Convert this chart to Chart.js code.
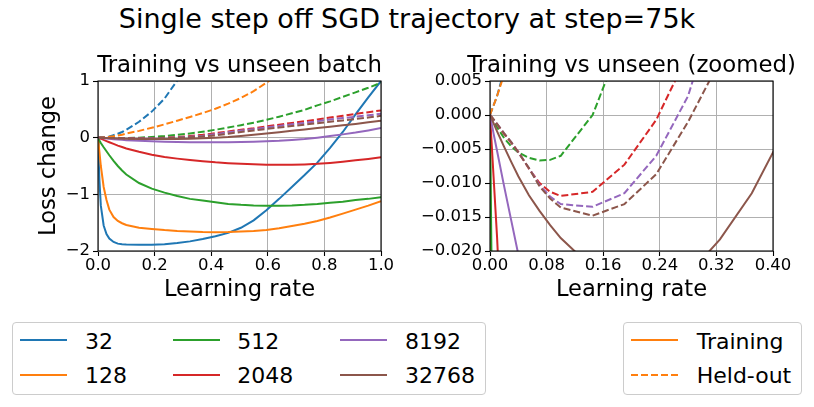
<!DOCTYPE html>
<html>
<head>
<meta charset="utf-8">
<script src="https://cdn.jsdelivr.net/npm/chart.js@4.4.1/dist/chart.umd.min.js"></script>
<style>
  body { margin: 0; background: #fff; font-family: "DejaVu Sans", sans-serif; }
  #page { position: relative; width: 814px; height: 407px; overflow: hidden; }
  #suptitle { position: absolute; left: 0; top: 5.4px; width: 814px; text-align: center;
              font-size: 27px; line-height: 27px; white-space: nowrap; }
  .panel { position: absolute; top: 0; width: 407px; height: 310px; }
  .legend { position: absolute; border: 1px solid #cccccc; border-radius: 4px; box-sizing: border-box; }
  .item { position: absolute; font-size: 22px; line-height: 22px; white-space: nowrap; color: #000; }
  svg.key { position: absolute; overflow: visible; }
</style>
</head>
<body>
<div id="page">
  <div id="suptitle">Single step off SGD trajectory at step=75k</div>
  <div class="panel" style="left:0"><canvas id="leftChart"></canvas></div>
  <div class="panel" style="left:407px"><canvas id="rightChart"></canvas></div>
</div>
<script>
// learning rates at which the single step was evaluated
var lr = [0, 0.0025, 0.005, 0.01, 0.02, 0.03, 0.04, 0.055, 0.07, 0.085, 0.1, 0.145, 0.19, 0.235, 0.28,
          0.325, 0.37, 0.415, 0.46, 0.505, 0.55, 0.595, 0.64, 0.685, 0.73, 0.775, 0.82, 0.865, 0.91, 0.955, 1.0];

var batchSizes = ['32', '128', '512', '2048', '8192', '32768'];
var colors = ['#1f77b4', '#ff7f0e', '#2ca02c', '#d62728', '#9467bd', '#8c564b'];

// loss change on the training batch (solid)
var train32    = [0, -0.4, -0.75, -1.2, -1.55, -1.7, -1.78, -1.84, -1.87, -1.88, -1.885, -1.89, -1.89, -1.88, -1.86,
                  -1.83, -1.79, -1.74, -1.68, -1.59, -1.46, -1.28, -1.08, -0.87, -0.66, -0.44, -0.18, 0.1, 0.41, 0.71, 1.0];
var train128   = [0, -0.13, -0.25, -0.5, -0.87, -1.1, -1.27, -1.4, -1.47, -1.51, -1.54, -1.59, -1.61, -1.63, -1.645,
                  -1.655, -1.665, -1.67, -1.665, -1.655, -1.645, -1.63, -1.6, -1.56, -1.52, -1.47, -1.41, -1.34, -1.27, -1.2, -1.12];
var train512   = [0, -0.025, -0.05, -0.095, -0.17, -0.24, -0.31, -0.41, -0.5, -0.58, -0.65, -0.8, -0.9, -0.97, -1.03,
                  -1.08, -1.11, -1.14, -1.17, -1.185, -1.195, -1.2, -1.2, -1.195, -1.185, -1.17, -1.15, -1.13, -1.1, -1.08, -1.05];
var train2048  = [0, -0.0045, -0.009, -0.018, -0.04, -0.06, -0.08, -0.11, -0.14, -0.165, -0.19, -0.25, -0.3, -0.34, -0.37,
                  -0.395, -0.415, -0.435, -0.45, -0.462, -0.47, -0.476, -0.478, -0.478, -0.472, -0.462, -0.445, -0.425, -0.4, -0.375, -0.347];
var train8192  = [0, -0.0013, -0.0027, -0.0053, -0.0105, -0.0155, -0.0205, -0.027, -0.033, -0.039, -0.044, -0.056, -0.065, -0.072, -0.077,
                  -0.08, -0.082, -0.082, -0.08, -0.077, -0.072, -0.065, -0.056, -0.042, -0.025, 0.0, 0.028, 0.058, 0.09, 0.128, 0.17];
var train32768 = [0, -0.0006, -0.0012, -0.0024, -0.0047, -0.0069, -0.009, -0.0118, -0.0141, -0.0162, -0.0181, -0.0225, -0.025, -0.0255, -0.0235,
                  -0.0183, -0.0115, -0.0025, 0.011, 0.03, 0.05, 0.072, 0.096, 0.12, 0.145, 0.17, 0.194, 0.218, 0.243, 0.27, 0.297];

// loss change on an unseen batch (dashed)
var held32    = [0, 0.0007, 0.0014, 0.0028, 0.0065, 0.012, 0.02, 0.045, 0.07, 0.1, 0.14, 0.28, 0.46, 0.69, 1.01,
                 1.4, null, null, null, null, null, null, null, null, null, null, null, null, null, null, null];
var held128   = [0, 0.0007, 0.0014, 0.0028, 0.006, 0.01, 0.015, 0.025, 0.037, 0.05, 0.072, 0.12, 0.175, 0.235, 0.3,
                 0.365, 0.435, 0.51, 0.6, 0.7, 0.82, 0.97, 1.12, null, null, null, null, null, null, null, null];
var held512   = [0, -0.0004, -0.0009, -0.0018, -0.0034, -0.0046, -0.0055, -0.0063, -0.0067, -0.0066, -0.006, 0.0, 0.012, 0.028, 0.05,
                 0.075, 0.105, 0.14, 0.18, 0.22, 0.265, 0.315, 0.37, 0.43, 0.49, 0.57, 0.64, 0.72, 0.8, 0.88, 0.97];
var held2048  = [0, -0.0003, -0.0007, -0.0014, -0.0028, -0.0041, -0.0054, -0.0079, -0.01, -0.0113, -0.0119, -0.0113, -0.0073, -0.0007, 0.009,
                 0.028, 0.05, 0.08, 0.11, 0.14, 0.165, 0.2, 0.23, 0.26, 0.29, 0.32, 0.355, 0.385, 0.42, 0.45, 0.48];
var held8192  = [0, -0.0003, -0.0007, -0.0013, -0.0027, -0.004, -0.0055, -0.0078, -0.0103, -0.012, -0.0131, -0.0135, -0.0115, -0.006, 0.0028,
                 0.018, 0.036, 0.06, 0.095, 0.125, 0.15, 0.18, 0.205, 0.235, 0.26, 0.29, 0.32, 0.345, 0.37, 0.395, 0.42];
var held32768 = [0, -0.0003, -0.0006, -0.0013, -0.0027, -0.004, -0.0055, -0.0078, -0.0105, -0.0123, -0.0136, -0.0148, -0.0131, -0.0087, -0.001,
                 0.008, 0.022, 0.04, 0.07, 0.1, 0.125, 0.155, 0.18, 0.205, 0.23, 0.255, 0.28, 0.305, 0.33, 0.355, 0.385];

var trainSeries = [train32, train128, train512, train2048, train8192, train32768];
var heldSeries = [held32, held128, held512, held2048, held8192, held32768];

function points(values) {
    return lr.map(function (x, i) { return { x: x, y: values[i] }; });
}

function buildDatasets() {
    var sets = [];
    for (var i = 0; i < batchSizes.length; i++) {
        sets.push({ label: batchSizes[i] + ' training', data: points(trainSeries[i]),
                    borderColor: colors[i], borderWidth: 2, pointRadius: 0, tension: 0 });
        sets.push({ label: batchSizes[i] + ' held-out', data: points(heldSeries[i]),
                    borderColor: colors[i], borderWidth: 2, borderDash: [7, 3], pointRadius: 0, tension: 0 });
    }
    // matplotlib draws later lines on top
    sets.forEach(function (s, k) { s.order = -k; });
    return sets;
}

var minus = function (s) { return String(s).replace('-', '\u2212'); };

// black frame round the axes (spines) and the subplot title centred over the plot
var frame = {
    id: 'frame',
    afterDatasetsDraw: function (chart) {
        var a = chart.chartArea, ctx = chart.ctx;
        ctx.save();
        ctx.strokeStyle = '#000';
        ctx.lineWidth = 1.1;
        ctx.strokeRect(a.left, a.top, a.right - a.left, a.bottom - a.top);
        ctx.restore();
    },
    afterDraw: function (chart, args, opts) {
        var a = chart.chartArea, ctx = chart.ctx;
        ctx.save();
        ctx.fillStyle = '#000';
        ctx.font = '22.8px "DejaVu Sans"';
        ctx.textAlign = 'center';
        ctx.textBaseline = 'middle';
        ctx.fillText(opts.text, (a.left + a.right) / 2, 66.1);
        ctx.restore();
    }
};

function makeChart(id, cfg) {
    var grid = { color: '#b0b0b0', lineWidth: 1, tickColor: '#000', tickLength: 5, tickWidth: 1.1 };
    return new Chart(document.getElementById(id), {
        type: 'line',
        data: { datasets: buildDatasets() },
        plugins: [frame],
        options: {
            responsive: true,
            maintainAspectRatio: false,
            animation: false,
            layout: { padding: { left: 0, right: cfg.padRight, top: 81, bottom: 0 } },
            plugins: {
                legend: { display: false },
                tooltip: { enabled: false },
                frame: { text: cfg.title }
            },
            scales: {
                x: {
                    type: 'linear', min: 0, max: cfg.xMax,
                    grid: grid, border: { display: false },
                    ticks: { stepSize: cfg.xStep, autoSkip: false, maxRotation: 0, padding: 0, color: '#000',
                             font: { family: 'DejaVu Sans', size: 16.5 },
                             callback: function (v) { return v.toFixed(cfg.xDigits); } },
                    title: { display: true, text: 'Learning rate', color: '#000',
                             font: { family: 'DejaVu Sans', size: 22.6 }, padding: { top: 0, bottom: 6.4 } },
                    afterFit: function (scale) { scale.height = 59; }
                },
                y: {
                    min: cfg.yMin, max: cfg.yMax,
                    grid: grid, border: { display: false },
                    ticks: { stepSize: cfg.yStep, autoSkip: false, padding: 3, color: '#000',
                             font: { family: 'DejaVu Sans', size: 16.5 },
                             callback: cfg.yFmt },
                    title: { display: !!cfg.yTitle, text: cfg.yTitle || '', color: '#000',
                             font: { family: 'DejaVu Sans', size: 22.6 }, padding: { top: 35.1, bottom: 0 } },
                    afterFit: function (scale) { scale.width = cfg.yWidth; }
                }
            }
        }
    });
}

makeChart('leftChart', {
    title: 'Training vs unseen batch', yTitle: 'Loss change',
    xMax: 1, xStep: 0.2, xDigits: 1,
    yMin: -2, yMax: 1, yStep: 1,
    yFmt: function (v) { return minus(Math.round(v)); },
    yWidth: 98, padRight: 26
});

makeChart('rightChart', {
    title: 'Training vs unseen (zoomed)', yTitle: null,
    xMax: 0.4, xStep: 0.08, xDigits: 2,
    yMin: -0.02, yMax: 0.005, yStep: 0.005,
    yFmt: function (v) { return Math.abs(v) < 1e-9 ? '0.000' : minus(v.toFixed(3)); },
    yWidth: 83, padRight: 41
});

// legends
var page = document.getElementById('page');

function addBox(left, top, width, height) {
    var d = document.createElement('div');
    d.className = 'legend';
    d.style.left = left + 'px'; d.style.top = top + 'px';
    d.style.width = width + 'px'; d.style.height = height + 'px';
    page.appendChild(d);
}

function addEntry(lineX, textX, rowY, color, dashed, text) {
    var svg = document.createElementNS('http://www.w3.org/2000/svg', 'svg');
    svg.setAttribute('class', 'key');
    svg.setAttribute('width', '47'); svg.setAttribute('height', '4');
    svg.style.left = lineX + 'px'; svg.style.top = (rowY - 2) + 'px';
    var ln = document.createElementNS('http://www.w3.org/2000/svg', 'line');
    ln.setAttribute('x1', '0'); ln.setAttribute('y1', '2');
    ln.setAttribute('x2', '47'); ln.setAttribute('y2', '2');
    ln.setAttribute('stroke', color); ln.setAttribute('stroke-width', '2');
    if (dashed) ln.setAttribute('stroke-dasharray', '7 3');
    svg.appendChild(ln);
    page.appendChild(svg);

    var t = document.createElement('div');
    t.className = 'item';
    t.textContent = text;
    t.style.left = textX + 'px'; t.style.top = (rowY - 9.3) + 'px';
    page.appendChild(t);
}

addBox(11.7, 321.7, 474, 73.3);
var colLine = [20, 172.7, 340], colText = [85, 237.3, 405], rowY = [340, 374.5];
for (var i = 0; i < batchSizes.length; i++) {
    var c = Math.floor(i / 2), r = i % 2;
    addEntry(colLine[c], colText[c], rowY[r], colors[i], false, batchSizes[i]);
}

addBox(622.7, 321.7, 179.6, 73.3);
addEntry(631, 696.7, rowY[0], colors[1], false, 'Training');
addEntry(631, 696.7, rowY[1], colors[1], true, 'Held-out');
</script>
</body>
</html>
